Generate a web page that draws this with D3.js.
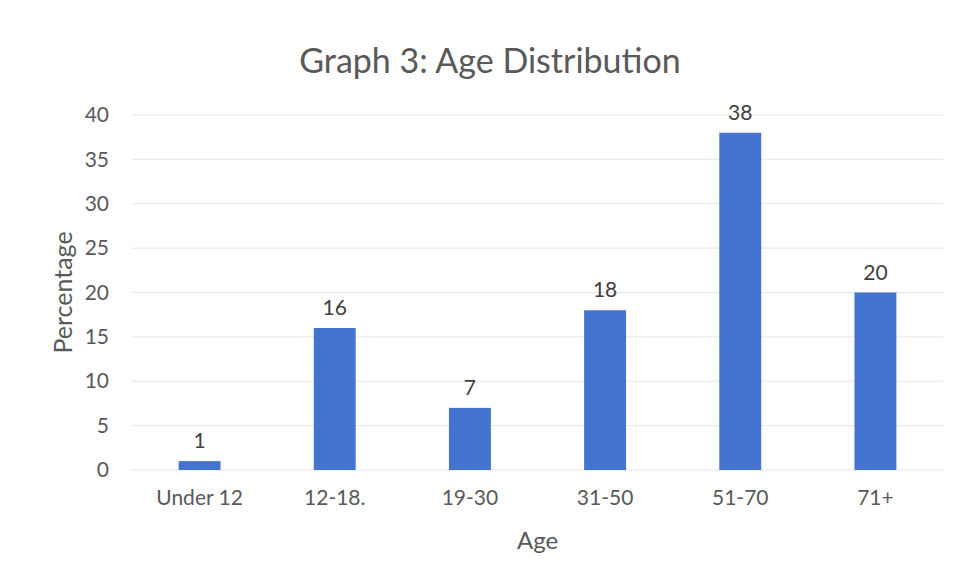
<!DOCTYPE html>
<html>
<head>
<meta charset="utf-8">
<script src="https://cdn.jsdelivr.net/npm/d3@7"></script>
<style>
  body { margin: 0; background: #fff; }
  text { font-family: Lato, "Open Sans", sans-serif; }
</style>
</head>
<body>
<div id="container"></div>
<script>
// data
const categories = ["Under 12", "12-18.", "19-30", "31-50", "51-70", "71+"];
const values = [1, 16, 7, 18, 38, 20];
const yTicks = [0, 5, 10, 15, 20, 25, 30, 35, 40];

const width = 963, height = 582,
  margin = { top: 115, bottom: 112, left: 132, right: 20 };

const svg = d3.select("#container")
  .append("svg")
  .attr("width", width)
  .attr("height", height);

const x = d3.scaleBand()
  .domain(categories)
  .range([margin.left, 943])
  .paddingInner(0.69)
  .paddingOuter(0.345);

const y = d3.scaleLinear()
  .domain([0, 40])
  .range([height - margin.bottom, margin.top]);

// gridlines
svg.append("g")
  .selectAll("line")
  .data(yTicks)
  .join("line")
  .attr("x1", margin.left)
  .attr("x2", 943)
  .attr("y1", d => y(d))
  .attr("y2", d => y(d))
  .attr("stroke", "#e6e6e6")
  .attr("stroke-width", 1);

// y axis labels
const yAxis = svg.append("g")
  .attr("transform", `translate(${margin.left - 23},0)`)
  .call(d3.axisLeft(y).tickValues(yTicks).tickSize(0).tickPadding(0));
yAxis.select(".domain").remove();
yAxis.selectAll("text")
  .style("font-size", "21px")
  .attr("fill", "#595959");

// x axis labels
const xAxis = svg.append("g")
  .attr("transform", `translate(0,${y(0)})`)
  .call(d3.axisBottom(x).tickSize(0).tickPadding(20));
xAxis.select(".domain").remove();
xAxis.selectAll("text")
  .style("font-size", "21px")
  .attr("fill", "#595959");

// bars
svg.append("g")
  .selectAll("rect")
  .data(values)
  .join("rect")
  .attr("x", (d, i) => x(categories[i]))
  .attr("width", x.bandwidth())
  .attr("y", d => y(d))
  .attr("height", d => y(0) - y(d))
  .attr("fill", "#4375d0");

// value labels
svg.append("g")
  .selectAll("text")
  .data(values)
  .join("text")
  .attr("x", (d, i) => x(categories[i]) + x.bandwidth() / 2)
  .attr("y", d => y(d) - 13)
  .attr("text-anchor", "middle")
  .style("font-size", "21px")
  .attr("fill", "#404040")
  .text(d => d);

// title
svg.append("text")
  .attr("x", 490)
  .attr("y", 73)
  .attr("text-anchor", "middle")
  .style("font-size", "34px")
  .attr("fill", "#595959")
  .text("Graph 3: Age Distribution");

// axis titles
svg.append("text")
  .attr("transform", `translate(72,${(y(0) + y(40)) / 2}) rotate(-90)`)
  .attr("text-anchor", "middle")
  .style("font-size", "25px")
  .attr("fill", "#595959")
  .text("Percentage");

svg.append("text")
  .attr("x", (margin.left + 943) / 2)
  .attr("y", 549)
  .attr("text-anchor", "middle")
  .style("font-size", "24px")
  .attr("fill", "#595959")
  .text("Age");
</script>
</body>
</html>
